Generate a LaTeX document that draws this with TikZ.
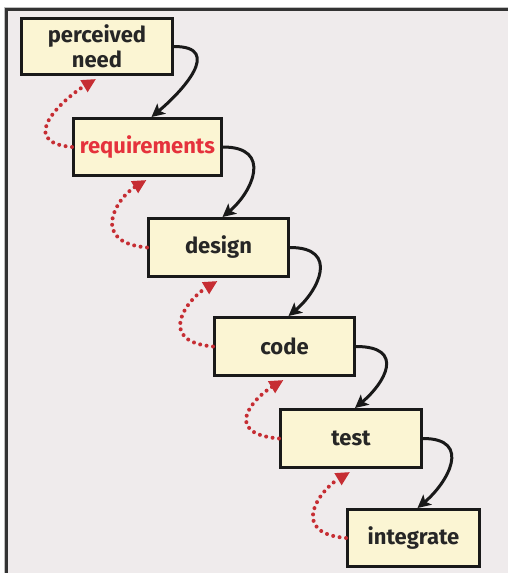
\documentclass[tikz,border=0pt]{standalone}
\usepackage{fontspec}
\setmainfont{Fira Sans}
\usetikzlibrary{arrows.meta}
\definecolor{bg}{HTML}{EFEBEC}
\definecolor{boxfill}{HTML}{FBF5D3}
\definecolor{frame}{HTML}{333333}
\definecolor{txt}{HTML}{262626}
\definecolor{redtxt}{HTML}{E5323C}
\definecolor{dotred}{HTML}{C62D33}
\tikzset{
  stage/.style={draw=black!90, line width=3pt, fill=boxfill, inner sep=0pt,
    text=txt, font=\fontsize{22}{25}\selectfont\bfseries, align=center},
  fwd/.style={draw=black!90, line width=3pt,
    -{Stealth[length=13pt,width=13pt,inset=3pt]}},
  back/.style={draw=dotred, line width=4pt, line cap=round,
    dash pattern=on 0pt off 6.5pt,
    -{Triangle[length=14pt,width=13pt]}}
}
\begin{document}
\begin{tikzpicture}[x=1pt,y=-1pt]
\useasboundingbox (0,0) rectangle (508,573);
\fill[white] (0,0) rectangle (508,573);
\fill[bg] (6.5,9.5) rectangle (508,573);
\draw[black!25, line width=1pt] (4,580) -- (4,7) -- (515,7);
\draw[frame, line width=3pt] (6.5,580) -- (6.5,9.5) -- (515,9.5);

\node[stage, minimum width=151pt, minimum height=56pt] (n1) at (97,46.5) {perceived\\need};
\node[stage, minimum width=148pt, minimum height=57pt, text=redtxt] (n2) at (147.5,147) {requirements};
\node[stage, minimum width=140pt, minimum height=58pt] (n3) at (218.5,247.5) {design};
\node[stage, minimum width=140pt, minimum height=58pt] (n4) at (284.5,346.5) {code};
\node[stage, minimum width=141pt, minimum height=58pt] (n5) at (351,438.5) {test};
\node[stage, minimum width=132pt, minimum height=57pt] (n6) at (413.5,538) {integrate};

\foreach \a/\b in {n1/n2,n2/n3,n3/n4,n4/n5,n5/n6}{
  \draw[fwd] (\a.east) .. controls +(50,0) and +(30,-25) .. ([xshift=4pt]\b.north);
  \draw[back] (\b.west) .. controls +(-58,-5) and +(-30,18) .. ([xshift=-1pt,yshift=-3pt]\a.south);
}
\end{tikzpicture}
\end{document}
